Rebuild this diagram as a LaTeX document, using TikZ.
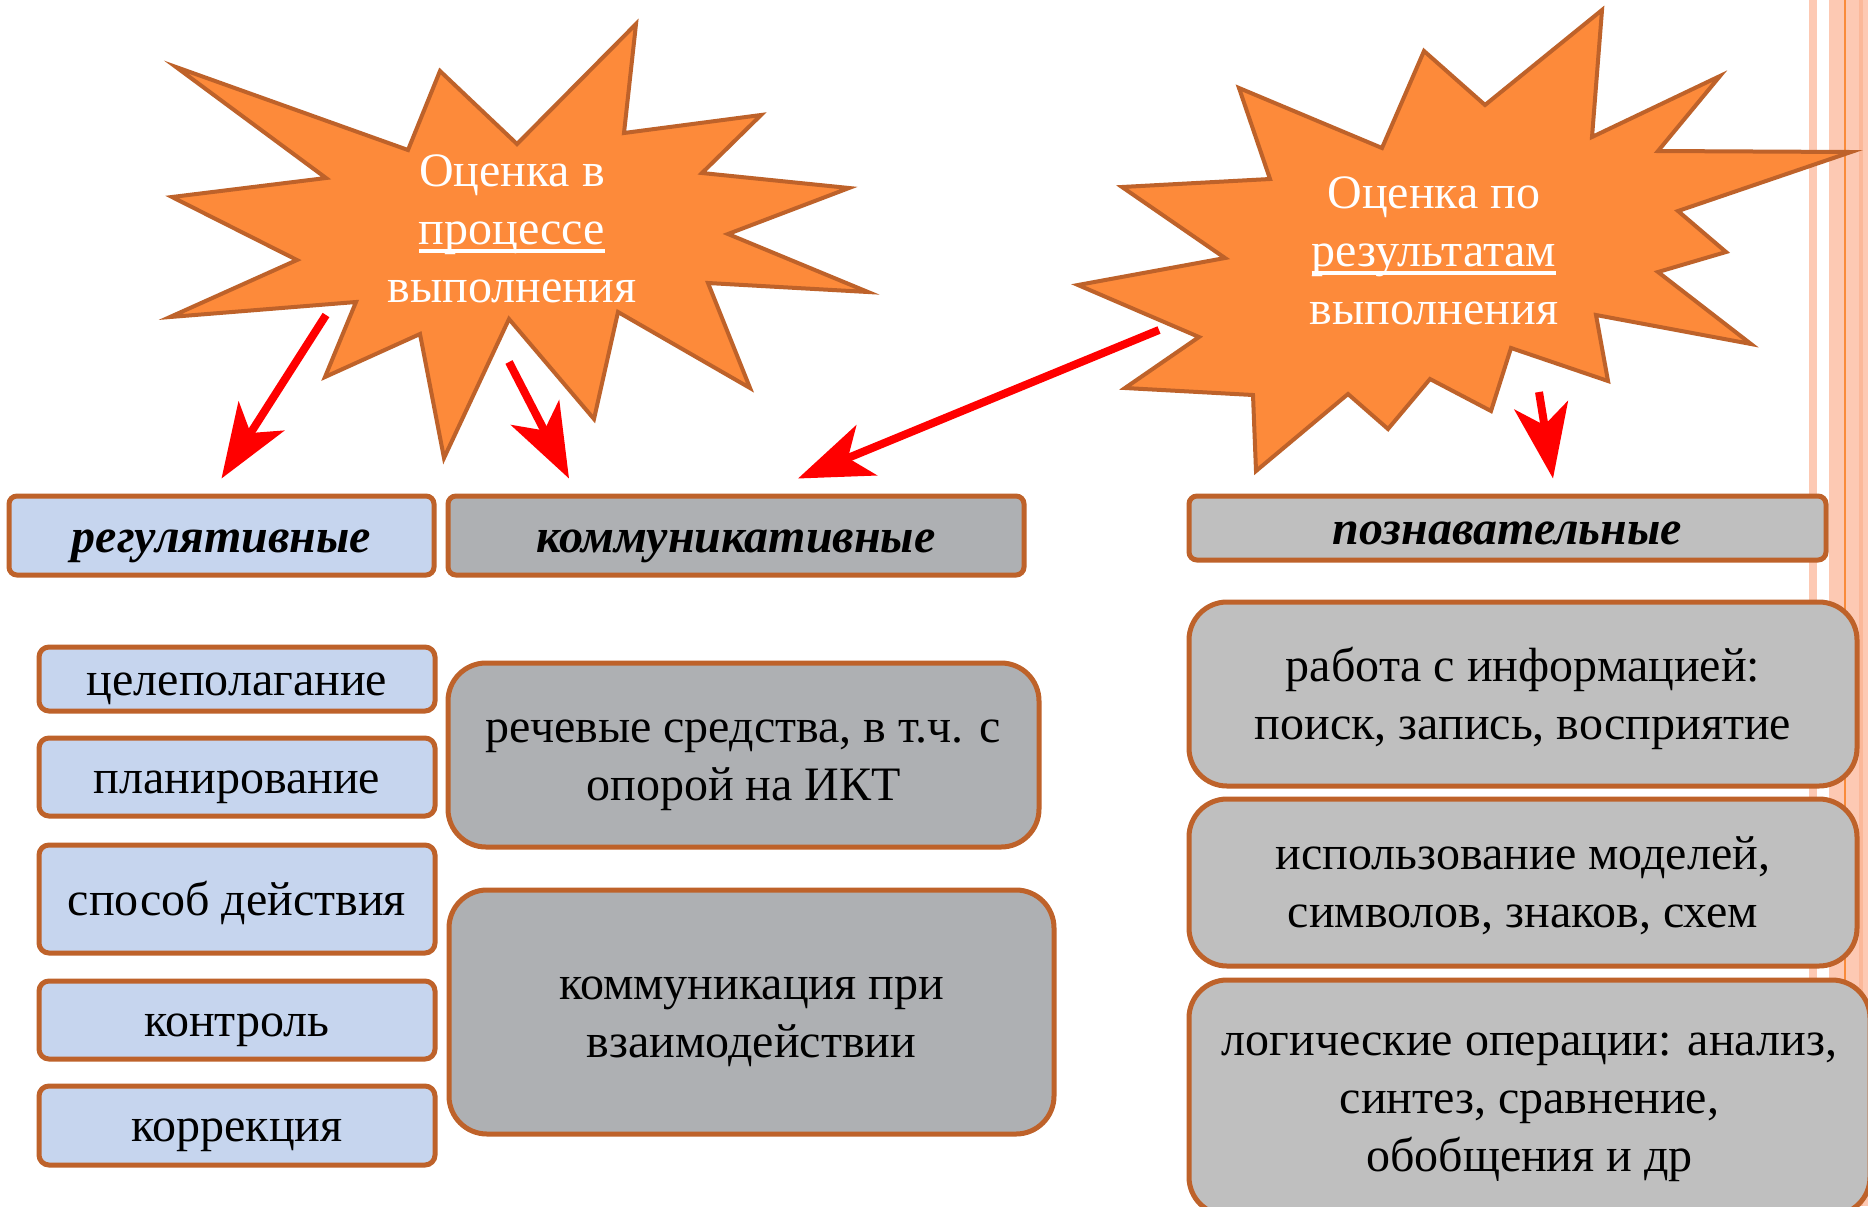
\documentclass[tikz,border=0pt]{standalone}
\usepackage{fontspec}
\setmainfont{Liberation Serif}
\newcommand{\ulin}[1]{\leavevmode\setbox0\hbox{#1}\rlap{\rule[-4pt]{\wd0}{1.6pt}}#1}
\usetikzlibrary{arrows.meta, calc}
\definecolor{ornj}{HTML}{FD8A3A}
\definecolor{brwn}{HTML}{BE622A}
\definecolor{blul}{HTML}{C6D5EE}
\definecolor{gryd}{HTML}{AEB0B3}
\definecolor{gryl}{HTML}{BFBFBF}
\definecolor{slmn}{HTML}{FDC9B3}
\definecolor{slmd}{HTML}{FBB899}
\definecolor{strp}{HTML}{F98B3A}

\begin{document}
\begin{tikzpicture}[x=0.5pt, y=-0.5pt,
            burst/.style={draw=brwn, fill=ornj, line width=2pt, line join=miter},
            lbl/.style={text=white, align=center, font=\fontsize{24}{29}\selectfont},
            hdbox/.style={draw=brwn, line width=2.5pt, rounded corners=4pt, inner sep=0pt,
                text height=16.5pt, text depth=0pt, font=\fontsize{24}{29}\selectfont\bfseries\itshape},
            regbox/.style={draw=brwn, fill=blul, line width=2.5pt, rounded corners=5pt, inner sep=0pt,
                minimum width=198pt, text height=16pt, text depth=0pt, font=\fontsize{24}{29}\selectfont},
            bigbox/.style={draw=brwn, line width=2.5pt, rounded corners=19pt, inner sep=0pt, align=center,
                text height=45pt, text depth=0pt, font=\fontsize{24}{29}\selectfont},
            redarr/.style={draw=red, line width=4pt, -{Stealth[length=37pt, width=27pt, inset=10pt]}}]
        \useasboundingbox (0,0) rectangle (1868,1206);
        \fill[white] (0,0) rectangle (1868,1206);
        % stripes on the right
        \fill[slmn] (1809,0) rectangle (1817,1206);
        \fill[slmn] (1829,0) rectangle (1868,1206);
        \fill[strp] (1844,0) rectangle (1846,1206);
        \fill[slmd] (1859,0) rectangle (1863,1206);
        % stars
        \draw[burst] (176,67) -- (408,150) -- (440,71) -- (517,144) -- (636,24) -- (624,133)
            -- (761,115) -- (702,173) -- (849,188) -- (728,234) -- (868,292) -- (708,283)
            -- (750,388) -- (618,312) -- (594,419) -- (509,319) -- (444,458) -- (420,334)
            -- (325,377) -- (356,302) -- (170,317) -- (297,260) -- (172,197) -- (326,178) -- cycle;
        \draw[burst] (1602,10) -- (1592,137) -- (1720,76) -- (1658,151) -- (1851,152) -- (1678,211)
            -- (1726,252) -- (1658,272) -- (1751,344) -- (1596,315) -- (1608,381) -- (1511,348)
            -- (1491,411) -- (1430,379) -- (1388,429) -- (1348,394) -- (1256,471) -- (1253,395)
            -- (1125,388) -- (1199,337) -- (1078,285) -- (1225,258) -- (1122,187) -- (1270,179)
            -- (1239,88) -- (1382,148) -- (1424,51) -- (1485,105) -- cycle;
        \node[lbl] (ocp) at (512,229) {Оценка в\\\ulin{процессе}\\выполнения};
        \node[lbl] (ocr) at (1434,251) {Оценка по\\\ulin{результатам}\\выполнения};
        % header boxes
        \node[hdbox, fill=blul, minimum width=212.5pt, minimum height=39.5pt] (reg) at (221.5,535.5) {регулятивные};
        \node[hdbox, fill=gryd, minimum width=288pt, minimum height=39.5pt] (kom) at (736,535.5) {коммуникативные};
        \node[hdbox, fill=gryl, minimum width=318.5pt, minimum height=32pt] (poz) at (1507.5,528) {познавательные};
        % regulative
        \node[regbox, minimum height=32pt] (cel) at (237,679) {целеполагание};
        \node[regbox, minimum height=39pt] (plan) at (237,777) {планирование};
        \node[regbox, minimum height=54pt] (spos) at (237,899) {способ действия};
        \node[regbox, minimum height=39pt] (kont) at (237,1020) {контроль};
        \node[regbox, minimum height=39.5pt] (korr) at (237,1125.5) {коррекция};
        % communicative
        \node[bigbox, fill=gryd, minimum width=295.5pt, minimum height=92pt] (rech) at (743.5,755) {речевые средства, в т.ч. с\\опорой на ИКТ};
        \node[bigbox, fill=gryd, minimum width=302.5pt, minimum height=122pt] (vzai) at (751.5,1012) {коммуникация при\\взаимодействии};
        % cognitive
        \node[bigbox, fill=gryl, minimum width=334pt, minimum height=92pt] (rab) at (1523,694) {работа с информацией:\\поиск, запись, восприятие};
        \node[bigbox, fill=gryl, minimum width=334pt, minimum height=83.5pt] (isp) at (1523,882.5) {использование моделей,\\символов, знаков, схем};
        \node[bigbox, fill=gryl, text height=74pt, minimum width=340.5pt, minimum height=117.5pt] (log) at (1529.5,1097.5) {логические операции: анализ,\\синтез, сравнение,\\обобщения и др};
        % arrows
        \coordinate (ocp1) at (326,315);
        \coordinate (ocp2) at (509,362);
        \coordinate (ocr1) at (1159,330);
        \coordinate (ocr2) at (1539,392);
        \draw[redarr] (ocp1) -- ([yshift=7.5pt]reg.north);
        \draw[redarr] (ocp2) -- ([xshift=-83.5pt, yshift=7.5pt]kom.north);
        \draw[redarr] (ocr1) -- ([xshift=31pt, yshift=7.5pt]kom.north);
        \draw[redarr] (ocr2) -- ([xshift=22.75pt, yshift=7.5pt]poz.north);
\end{tikzpicture}
\end{document}
